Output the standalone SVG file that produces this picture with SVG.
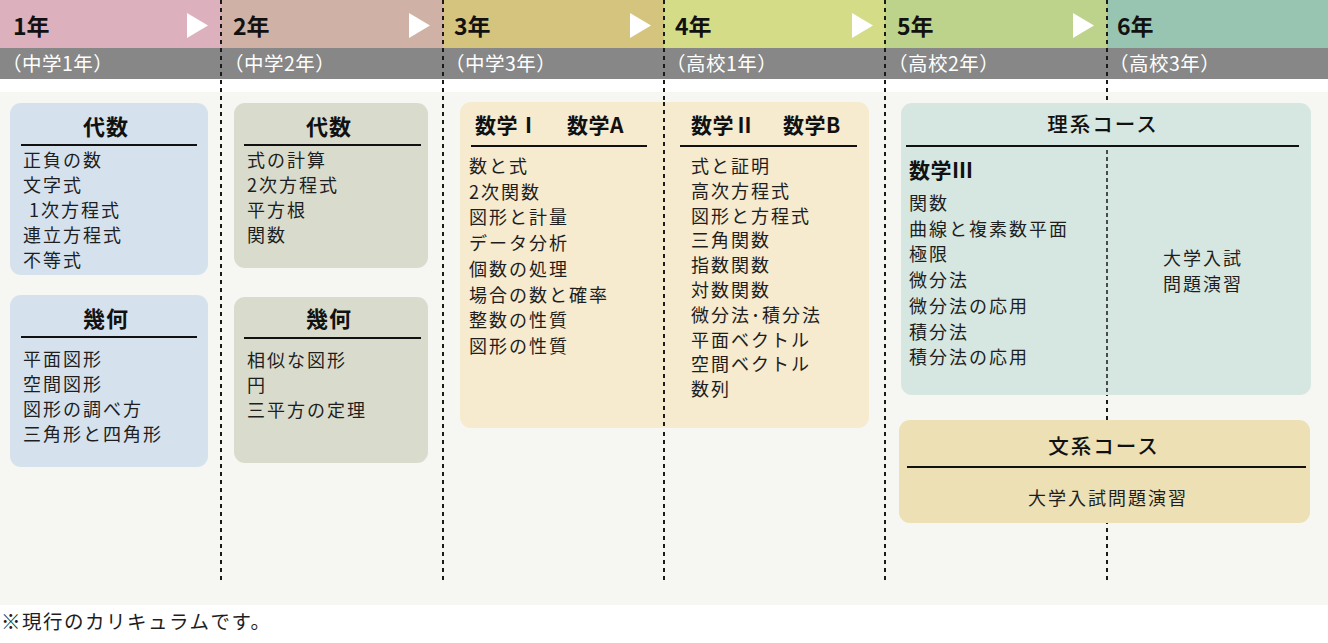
<svg xmlns="http://www.w3.org/2000/svg" width="1328" height="643" viewBox="0 0 1328 643">
<style>
text{font-family:"Noto Sans CJK JP","Noto Sans",sans-serif;fill:#1e1e1e}
.yr{font-size:23px;font-weight:700;fill:#111}
.sub{font-size:19.5px;fill:#fff;letter-spacing:0.5px}
.tri{fill:#fff}
.div{stroke:#1a1a1a;stroke-width:2;stroke-dasharray:4 4;fill:none}
.thin{stroke:#1a1a1a;stroke-width:1.5;stroke-dasharray:4 3;fill:none}
.rule{stroke:#111;stroke-width:2}
.ttl{font-size:22px;font-weight:700;letter-spacing:1px;text-anchor:middle;fill:#111}
.ttl2{font-size:21px;font-weight:700;letter-spacing:0.5px;fill:#111}
.crs{font-size:20.5px;font-weight:500;letter-spacing:2px;text-anchor:middle;fill:#111}
.it{font-size:18px;letter-spacing:2px}
</style>
<rect x="0" y="0" width="1328" height="643" fill="#ffffff"/>
<g id="header">
<rect x="0" y="0" width="221" height="48" fill="#dcb1bd"/>
<rect x="221" y="0" width="222" height="48" fill="#cfb1a5"/>
<rect x="443" y="0" width="221" height="48" fill="#d5c47e"/>
<rect x="664" y="0" width="221" height="48" fill="#d5dc87"/>
<rect x="885" y="0" width="222" height="48" fill="#bdd28b"/>
<rect x="1107" y="0" width="221" height="48" fill="#98c5b1"/>
<rect x="0" y="48" width="1328" height="31" fill="#878787"/>
<rect x="0" y="92" width="1328" height="513" fill="#f6f6f2"/>
<polygon class="tri" points="187,13 208,25.5 187,38"/>
<polygon class="tri" points="409,13 430,25.5 409,38"/>
<polygon class="tri" points="630,13 651,25.5 630,38"/>
<polygon class="tri" points="852,13 873,25.5 852,38"/>
<polygon class="tri" points="1073,13 1094,25.5 1073,38"/>
<text class="yr" x="13" y="35">1年</text>
<text class="yr" x="233" y="35">2年</text>
<text class="yr" x="454" y="35">3年</text>
<text class="yr" x="675" y="35">4年</text>
<text class="yr" x="897" y="35">5年</text>
<text class="yr" x="1117" y="35">6年</text>
<text class="sub" x="2" y="71">（中学1年）</text>
<text class="sub" x="224" y="71">（中学2年）</text>
<text class="sub" x="445" y="71">（中学3年）</text>
<text class="sub" x="666" y="71">（高校1年）</text>
<text class="sub" x="888" y="71">（高校2年）</text>
<text class="sub" x="1109" y="71">（高校3年）</text>
</g>
<g id="connectors">
<line class="div" x1="221" y1="0" x2="221" y2="583"/>
<line class="div" x1="443" y1="0" x2="443" y2="583"/>
<line class="div" x1="664" y1="0" x2="664" y2="583"/>
<line class="div" x1="885" y1="0" x2="885" y2="583"/>
<line class="div" x1="1107" y1="0" x2="1107" y2="583"/>
</g>
<g id="algebra1">
<rect x="10" y="103" width="198" height="172" rx="11" fill="#d5e2ee"/>
<text class="ttl" x="106" y="135">代数</text>
<line class="rule" x1="21" y1="145" x2="197" y2="145"/>
<text class="it" x="23" y="167">正負の数</text>
<text class="it" x="23" y="192">文字式</text>
<text class="it" x="29" y="217">1次方程式</text>
<text class="it" x="23" y="242">連立方程式</text>
<text class="it" x="23" y="267">不等式</text>
</g>
<g id="geometry1">
<rect x="10" y="295" width="198" height="172" rx="11" fill="#d5e2ee"/>
<text class="ttl" x="106" y="327">幾何</text>
<line class="rule" x1="21" y1="337" x2="197" y2="337"/>
<text class="it" x="23" y="366">平面図形</text>
<text class="it" x="23" y="391">空間図形</text>
<text class="it" x="23" y="416">図形の調べ方</text>
<text class="it" x="23" y="441">三角形と四角形</text>
</g>
<g id="algebra2">
<rect x="234" y="103" width="194" height="165" rx="11" fill="#d9dccc"/>
<text class="ttl" x="329" y="135">代数</text>
<line class="rule" x1="244" y1="145" x2="421" y2="145"/>
<text class="it" x="247" y="167">式の計算</text>
<text class="it" x="247" y="192">2次方程式</text>
<text class="it" x="247" y="217">平方根</text>
<text class="it" x="247" y="242">関数</text>
</g>
<g id="geometry2">
<rect x="234" y="297" width="194" height="166" rx="11" fill="#d9dccc"/>
<text class="ttl" x="329" y="327">幾何</text>
<line class="rule" x1="244" y1="338" x2="421" y2="338"/>
<text class="it" x="247" y="367">相似な図形</text>
<text class="it" x="247" y="392">円</text>
<text class="it" x="247" y="417">三平方の定理</text>
</g>
<g id="math12AB">
<rect x="460" y="102" width="409" height="326" rx="11" fill="#f6eacf"/>
<line class="div" x1="664" y1="102" x2="664" y2="428"/>
<text class="ttl2" x="475" y="133">数学Ⅰ</text>
<text class="ttl2" x="567" y="133">数学A</text>
<line class="rule" x1="471" y1="146" x2="647" y2="146"/>
<text class="it" x="469" y="173">数と式</text>
<text class="it" x="469" y="198.7">2次関数</text>
<text class="it" x="469" y="224.4">図形と計量</text>
<text class="it" x="469" y="250.1">データ分析</text>
<text class="it" x="469" y="275.8">個数の処理</text>
<text class="it" x="469" y="301.5">場合の数と確率</text>
<text class="it" x="469" y="327.2">整数の性質</text>
<text class="it" x="469" y="352.9">図形の性質</text>
<text class="ttl2" x="691" y="133">数学Ⅱ</text>
<text class="ttl2" x="783" y="133">数学B</text>
<line class="rule" x1="680" y1="146" x2="857" y2="146"/>
<text class="it" x="691" y="173">式と証明</text>
<text class="it" x="691" y="197.8">高次方程式</text>
<text class="it" x="691" y="222.6">図形と方程式</text>
<text class="it" x="691" y="247.4">三角関数</text>
<text class="it" x="691" y="272.2">指数関数</text>
<text class="it" x="691" y="297">対数関数</text>
<text class="it" x="691" y="321.8">微分法･積分法</text>
<text class="it" x="691" y="346.6">平面ベクトル</text>
<text class="it" x="691" y="371.4">空間ベクトル</text>
<text class="it" x="691" y="396.2">数列</text>
</g>
<g id="science">
<rect x="901" y="103" width="410" height="292" rx="11" fill="#d6e7e1"/>
<text class="crs" x="1103" y="132">理系コース</text>
<line class="rule" x1="906" y1="146" x2="1299" y2="146"/>
<line class="thin" x1="1107" y1="150" x2="1107" y2="395"/>
<text class="ttl2" x="909" y="178">数学Ⅲ</text>
<text class="it" x="909" y="210">関数</text>
<text class="it" x="909" y="235.7">曲線と複素数平面</text>
<text class="it" x="909" y="261.4">極限</text>
<text class="it" x="909" y="287.1">微分法</text>
<text class="it" x="909" y="312.8">微分法の応用</text>
<text class="it" x="909" y="338.5">積分法</text>
<text class="it" x="909" y="364.2">積分法の応用</text>
<text class="it" x="1163" y="265">大学入試</text>
<text class="it" x="1163" y="291">問題演習</text>
</g>
<g id="humanities">
<rect x="899" y="420" width="411" height="103" rx="11" fill="#ece0b4"/>
<text class="crs" x="1104" y="454">文系コース</text>
<line class="rule" x1="907" y1="467" x2="1306" y2="467"/>
<text class="it" x="1108" y="505" text-anchor="middle">大学入試問題演習</text>
</g>
<g id="note">
<text x="1" y="629" style="font-size:19.5px;letter-spacing:1.5px">※現行のカリキュラムです。</text>
</g>
</svg>
